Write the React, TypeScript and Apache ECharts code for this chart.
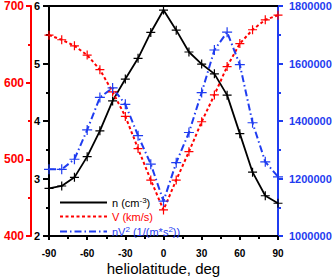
import React, { useEffect, useRef } from "react";
import * as echarts from "echarts";

const latitudes = [-90, -80, -70, -60, -50, -40, -30, -20, -10, 0, 10, 20, 30, 40, 50, 60, 70, 80, 90];
const nValues = [2.83, 2.87, 3.02, 3.38, 3.83, 4.35, 4.73, 5.09, 5.54, 5.93, 5.58, 5.2, 4.99, 4.82, 4.45, 3.78, 3.11, 2.7, 2.57];
const vValues = [662, 656, 648, 636, 617, 588, 556, 514, 473, 434, 473, 510, 549, 584, 621, 651, 669, 682, 688];
const nv2Values = [1232000, 1232000, 1267000, 1369000, 1482000, 1515000, 1458000, 1349000, 1250000, 1121000, 1255000, 1360000, 1499000, 1647000, 1709000, 1596000, 1394000, 1258000, 1206000];

const RED = "#ff0000";
const BLUE = "#1f3cf0";
const BLACK = "#000000";
const PLUS = "path://M5,0L5,10M0,5L10,5";
const FONT = "Liberation Sans, Arial, sans-serif";

const pairs = (vals: number[]) => latitudes.map((x, i) => [x, vals[i]]);

export default function App() {
  const ref = useRef<HTMLDivElement>(null);
  useEffect(() => {
    if (!ref.current) return;
    const chart = echarts.init(ref.current, undefined, { renderer: "svg" });
    const yAxisBase = (color: string) => ({
      type: "value" as const,
      axisLine: { show: true, onZero: false, lineStyle: { color, width: 2 } },
      axisTick: { show: true, length: 5, lineStyle: { color, width: 2 } },
      minorTick: { show: true, splitNumber: 2, length: 3, lineStyle: { color, width: 2 } },
      splitLine: { show: false },
    });
    chart.setOption({
      animation: false,
      grid: { left: 49, right: 54, top: 6, bottom: 41, containLabel: false, outerBoundsMode: "none" },
      legend: {
        orient: "vertical",
        left: 54,
        top: 191,
        itemWidth: 47,
        itemHeight: 10,
        itemGap: 3,
        itemStyle: { opacity: 0 },
        selectedMode: false,
        data: ["n", "V", "nV2"],
        formatter: (name: string) => {
          if (name === "n") return "{b|n (cm}{s|-3}{b|)}";
          if (name === "V") return "{r|V (km/s)}";
          return "{u|nV}{us|2}{u| (1/(m*s}{us|2}{u|))}";
        },
        textStyle: {
          fontFamily: FONT,
          fontSize: 11,
          rich: {
            b: { color: BLACK, fontSize: 11, fontFamily: FONT, lineHeight: 13 },
            s: { color: BLACK, fontSize: 8, fontFamily: FONT, verticalAlign: "top", lineHeight: 8 },
            r: { color: RED, fontSize: 11, fontFamily: FONT, lineHeight: 13 },
            u: { color: BLUE, fontSize: 11, fontFamily: FONT, lineHeight: 13 },
            us: { color: BLUE, fontSize: 8, fontFamily: FONT, verticalAlign: "top", lineHeight: 8 },
          },
        },
      },
      xAxis: [
        {
          type: "value",
          min: -90,
          max: 90,
          interval: 30,
          name: "heliolatitude, deg",
          nameLocation: "middle",
          nameGap: 25,
          nameMoveOverlap: false,
          nameTextStyle: { color: BLACK, fontSize: 15, fontFamily: FONT },
          axisLine: { show: true, onZero: false, lineStyle: { color: BLACK, width: 2 } },
          axisTick: { show: true, length: 4, lineStyle: { color: BLACK, width: 2 } },
          minorTick: { show: true, splitNumber: 2, length: 3, lineStyle: { color: BLACK, width: 2 } },
          splitLine: { show: false },
          axisLabel: { color: BLACK, fontWeight: "bold", fontSize: 10, fontFamily: FONT, margin: 12 },
        },
        {
          type: "value",
          position: "top",
          min: -90,
          max: 90,
          axisLine: { show: true, onZero: false, lineStyle: { color: BLACK, width: 2 } },
          axisTick: { show: false },
          axisLabel: { show: false },
          splitLine: { show: false },
        },
      ],
      yAxis: [
        {
          ...yAxisBase(BLACK),
          position: "left",
          min: 2,
          max: 6,
          interval: 1,
          axisTick: { show: true, length: 6, lineStyle: { color: BLACK, width: 2 } },
          axisLabel: { color: BLACK, fontWeight: "bold", fontSize: 11, fontFamily: FONT, margin: 9 },
        },
        {
          ...yAxisBase(RED),
          position: "left",
          offset: 18,
          min: 400,
          max: 700,
          interval: 100,
          axisLabel: { color: RED, fontWeight: "bold", fontSize: 12, fontFamily: FONT, margin: 7 },
        },
        {
          ...yAxisBase(BLUE),
          position: "right",
          min: 1000000,
          max: 1800000,
          interval: 200000,
          axisLabel: {
            color: BLUE,
            fontWeight: "bold",
            fontSize: 11,
            fontFamily: FONT,
            margin: 11,
            formatter: (v: number) => String(v),
          },
        },
      ],
      series: [
        {
          name: "n",
          type: "line",
          yAxisIndex: 0,
          data: pairs(nValues),
          symbol: PLUS,
          symbolSize: 9,
          clip: false,
          itemStyle: { color: BLACK, borderColor: BLACK, borderWidth: 1.2 },
          lineStyle: { color: BLACK, width: 1.8, type: "solid" },
        },
        {
          name: "V",
          type: "line",
          yAxisIndex: 1,
          data: pairs(vValues),
          symbol: PLUS,
          symbolSize: 9,
          clip: false,
          itemStyle: { color: RED, borderColor: RED, borderWidth: 1.2 },
          lineStyle: { color: RED, width: 2, type: [3, 2.5] },
        },
        {
          name: "nV2",
          type: "line",
          yAxisIndex: 2,
          data: pairs(nv2Values),
          symbol: PLUS,
          symbolSize: 10,
          clip: false,
          itemStyle: { color: BLUE, borderColor: BLUE, borderWidth: 1.2 },
          lineStyle: { color: BLUE, width: 2, type: [7, 3, 1.5, 3] },
        },
      ],
    });
    return () => chart.dispose();
  }, []);
  return <div ref={ref} style={{ width: 332, height: 277, position: "absolute", left: 0, top: 0 }} />;
}
